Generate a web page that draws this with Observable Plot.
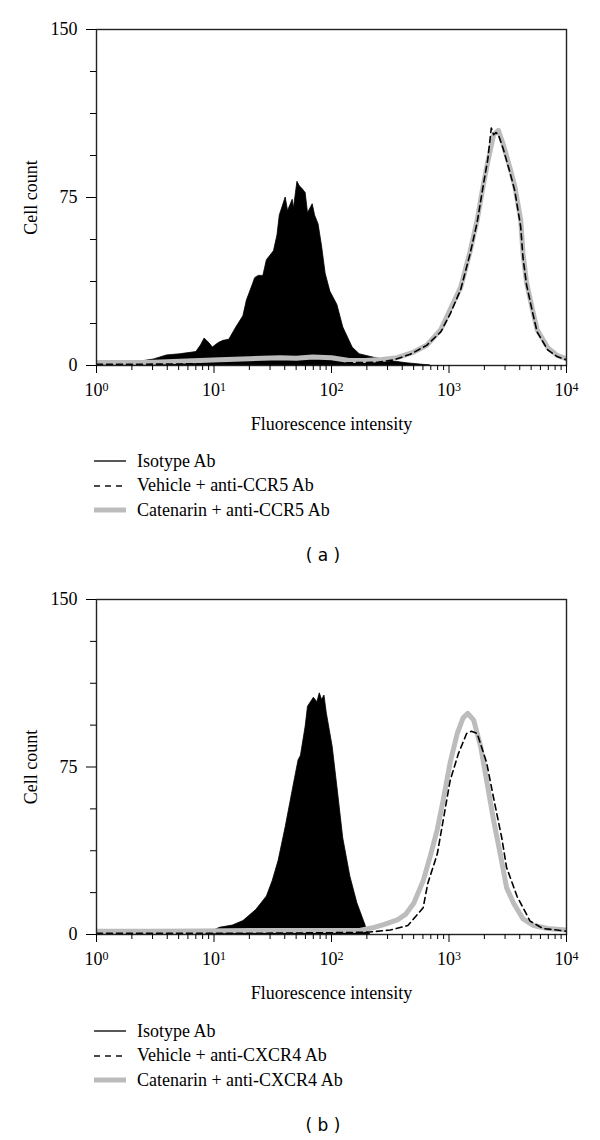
<!DOCTYPE html>
<html><head><meta charset="utf-8">
<script src="https://cdn.jsdelivr.net/npm/d3@7"></script>
<script src="https://cdn.jsdelivr.net/npm/@observablehq/plot@0.6"></script>
<style>
body{margin:0;background:#fff;width:600px;height:1140px;position:relative;font-family:"Liberation Serif","Times New Roman",serif;color:#000;}
.panel{position:absolute;left:0;width:600px;height:570px;}
.legend{position:absolute;left:94px;top:449px;}
.row{height:24.5px;display:flex;align-items:center;font-size:18px;}
.row svg{width:32px;height:10px;margin-right:11px;flex:none;}
.cap{position:absolute;top:545px;left:0;width:646px;text-align:center;font-family:"DejaVu Sans",sans-serif;font-size:17px;white-space:pre;}
</style></head>
<body>
<script>
// ---- tick values / labels ----
const xTicks = [1, 10, 100, 1000, 10000];
const xMinor = [2,3,4,5,6,7,8,9,20,30,40,50,60,70,80,90,200,300,400,500,600,700,800,900,2000,3000,4000,5000,6000,7000,8000,9000];
const yTicks = [0, 75, 150];
const yMinor = [18.75, 37.5, 56.25, 93.75, 112.5, 131.25];
const xLabel = "Fluorescence intensity";
const yLabel = "Cell count";
const captions = ["( a )", "( b )"];
const legendA = ["Isotype Ab", "Vehicle + anti-CCR5 Ab", "Catenarin + anti-CCR5 Ab"];
const legendB = ["Isotype Ab", "Vehicle + anti-CXCR4 Ab", "Catenarin + anti-CXCR4 Ab"];

// ---- panel (a) series: log10(intensity) and cell count ----
const isoA_log =   [0, 0.29, 0.49, 0.60, 0.71, 0.85, 0.89, 0.92, 0.96, 0.99, 1.04, 1.08, 1.13, 1.19, 1.25, 1.28, 1.33, 1.35, 1.38, 1.42, 1.45, 1.48, 1.51, 1.54, 1.56, 1.61, 1.63, 1.67, 1.68, 1.71, 1.73, 1.75, 1.78, 1.80, 1.84, 1.86, 1.89, 1.92, 1.95, 1.99, 2.05, 2.10, 2.18, 2.24, 2.36, 2.50, 2.64, 2.84];
const isoA_count = [0, 1, 2.7, 4.5, 5, 6, 9, 12, 10, 8, 10, 11, 11.5, 17, 22, 29, 36, 39, 40, 40, 47, 49, 51, 58, 67, 75, 69, 74, 70, 82, 80, 79, 77, 68, 72, 67, 63, 53, 41, 33, 27, 17, 8, 5, 3.5, 2, 1, 0];
const vehA_log =   [0, 0.5, 1.0, 1.5, 2.0, 2.4, 2.53, 2.67, 2.81, 2.93, 3.01, 3.10, 3.18, 3.24, 3.29, 3.33, 3.36, 3.38, 3.40, 3.42, 3.46, 3.52, 3.56, 3.61, 3.63, 3.66, 3.71, 3.75, 3.84, 3.92, 4.0];
const vehA_count = [0.5, 0.6, 0.8, 1, 1, 1.5, 2.5, 5, 9, 15, 23, 34, 50, 64, 80, 92, 106, 103, 104, 103, 97, 86, 78, 62, 48, 36, 24, 15, 7, 4, 2.5];
const catA_log =   [0, 0.43, 0.99, 1.30, 1.56, 1.70, 1.84, 2.00, 2.15, 2.29, 2.43, 2.56, 2.70, 2.81, 2.93, 3.01, 3.10, 3.18, 3.24, 3.29, 3.33, 3.38, 3.42, 3.46, 3.52, 3.56, 3.61, 3.63, 3.66, 3.71, 3.75, 3.84, 3.92, 4.0];
const catA_count = [1.3, 1.3, 2.5, 3, 3.5, 3.2, 3.8, 3.5, 2.2, 2.2, 2.7, 3.5, 6, 9, 16, 25, 35, 51, 65, 80, 91, 103, 105, 99, 88, 80, 65, 50, 37, 25, 16, 8, 4.5, 3];

// ---- panel (b) series ----
const isoB_log =   [0.93, 0.99, 1.05, 1.16, 1.25, 1.36, 1.45, 1.50, 1.55, 1.61, 1.65, 1.69, 1.72, 1.74, 1.78, 1.80, 1.85, 1.88, 1.90, 1.92, 1.94, 1.96, 2.01, 2.05, 2.10, 2.16, 2.22, 2.29, 2.30, 2.33];
const isoB_count = [0.5, 1.5, 3, 4, 6, 11, 17, 24, 33, 48, 59, 70, 78, 80, 93, 102, 106, 104, 108, 105, 107, 99, 84, 66, 43, 26, 14, 4, 2, 0];
const vehB_log =   [0, 1.0, 1.5, 2.0, 2.3, 2.5, 2.65, 2.78, 2.82, 2.90, 2.95, 3.01, 3.08, 3.15, 3.19, 3.24, 3.32, 3.38, 3.45, 3.49, 3.58, 3.69, 3.80, 4.0];
const vehB_count = [0.5, 0.5, 0.6, 0.8, 1, 2, 4, 12, 23, 36, 51, 69, 81, 90, 91, 90, 77, 61, 43, 30, 17, 6, 2.7, 1.5];
const catB_log =   [0, 0.46, 0.88, 1.31, 1.73, 2.07, 2.24, 2.35, 2.45, 2.56, 2.63, 2.70, 2.78, 2.84, 2.90, 2.95, 3.01, 3.07, 3.12, 3.16, 3.21, 3.27, 3.32, 3.38, 3.44, 3.49, 3.55, 3.63, 3.72, 3.84, 4.0];
const catB_count = [1.5, 1.5, 1.6, 1.8, 1.8, 1.8, 1.8, 3, 4.5, 6.5, 9, 14, 24, 35, 47, 60, 77, 90, 97, 99, 96, 84, 69, 51, 35, 21, 14, 7, 4, 2.7, 2];

const rows = (lg, ct) => lg.map((e, i) => ({x: Math.pow(10, e), y: ct[i]}));

function drawPanel(top, frameH, iso, veh, cat, legend, caption) {
  const div = document.createElement("div");
  div.className = "panel";
  div.style.top = top + "px";
  document.body.appendChild(div);
  const H = 440;
  const svg = Plot.plot({
    width: 600, height: H,
    marginLeft: 96, marginRight: 34, marginTop: 29, marginBottom: H - 29 - frameH,
    x: {type: "log", domain: [1, 10000]},
    y: {domain: [0, 150]},
    style: {fontFamily: "'Liberation Serif','Times New Roman',serif", fontSize: "18px", color: "#000", background: "white", overflow: "visible"},
    marks: [
      Plot.areaY(iso, {x: "x", y: "y", fill: "black", stroke: "black", strokeWidth: 0.8, clip: true}),
      Plot.line(cat, {x: "x", y: "y", stroke: "#bcbcbc", strokeWidth: 5, clip: true}),
      Plot.line(veh, {x: "x", y: "y", stroke: "black", strokeWidth: 1.6, strokeDasharray: "6,4", clip: true}),
      Plot.frame({stroke: "#222", strokeWidth: 1.4}),
      Plot.axisY({ticks: yTicks, tickSize: 10, tickPadding: 9, tickFormat: d => String(d), label: yLabel, labelAnchor: "center", labelOffset: 72, labelArrow: "none"}),
      Plot.axisY({ticks: yMinor, tickSize: 6, tickFormat: () => "", label: null}),
      Plot.axisX({ticks: xTicks, tickSize: 8, tickPadding: 10, tickFormat: d => "10|" + Math.round(Math.log10(d)), label: xLabel, labelAnchor: "center", labelOffset: 64, labelArrow: "none"}),
      Plot.axisX({ticks: xMinor, tickSize: 5, tickFormat: () => "", label: null})
    ]
  });
  div.appendChild(svg);
  // superscript exponents on x tick labels
  d3.select(svg).selectAll("text").each(function () {
    const t = this.textContent;
    if (/^10\|\d$/.test(t)) {
      const exp = t.split("|")[1];
      const sel = d3.select(this);
      sel.text("10");
      sel.append("tspan").attr("dy", "-0.45em").attr("font-size", "12px").text(exp);
    }
  });
  // legend
  const lg = document.createElement("div");
  lg.className = "legend";
  const styles = [
    '<line x1="0" y1="5" x2="32" y2="5" stroke="#111" stroke-width="1.4"/>',
    '<line x1="0" y1="5" x2="32" y2="5" stroke="#111" stroke-width="1.4" stroke-dasharray="6,5"/>',
    '<line x1="0" y1="5" x2="32" y2="5" stroke="#bcbcbc" stroke-width="5"/>'
  ];
  legend.forEach((name, i) => {
    const r = document.createElement("div");
    r.className = "row";
    r.innerHTML = '<svg viewBox="0 0 32 10">' + styles[i] + '</svg><span></span>';
    r.querySelector("span").textContent = name;
    lg.appendChild(r);
  });
  div.appendChild(lg);
  const cap = document.createElement("div");
  cap.className = "cap";
  cap.textContent = caption;
  div.appendChild(cap);
}

drawPanel(0, 336, rows(isoA_log, isoA_count), rows(vehA_log, vehA_count), rows(catA_log, catA_count), legendA, captions[0]);
drawPanel(570, 335, rows(isoB_log, isoB_count), rows(vehB_log, vehB_count), rows(catB_log, catB_count), legendB, captions[1]);
</script>
</body></html>
